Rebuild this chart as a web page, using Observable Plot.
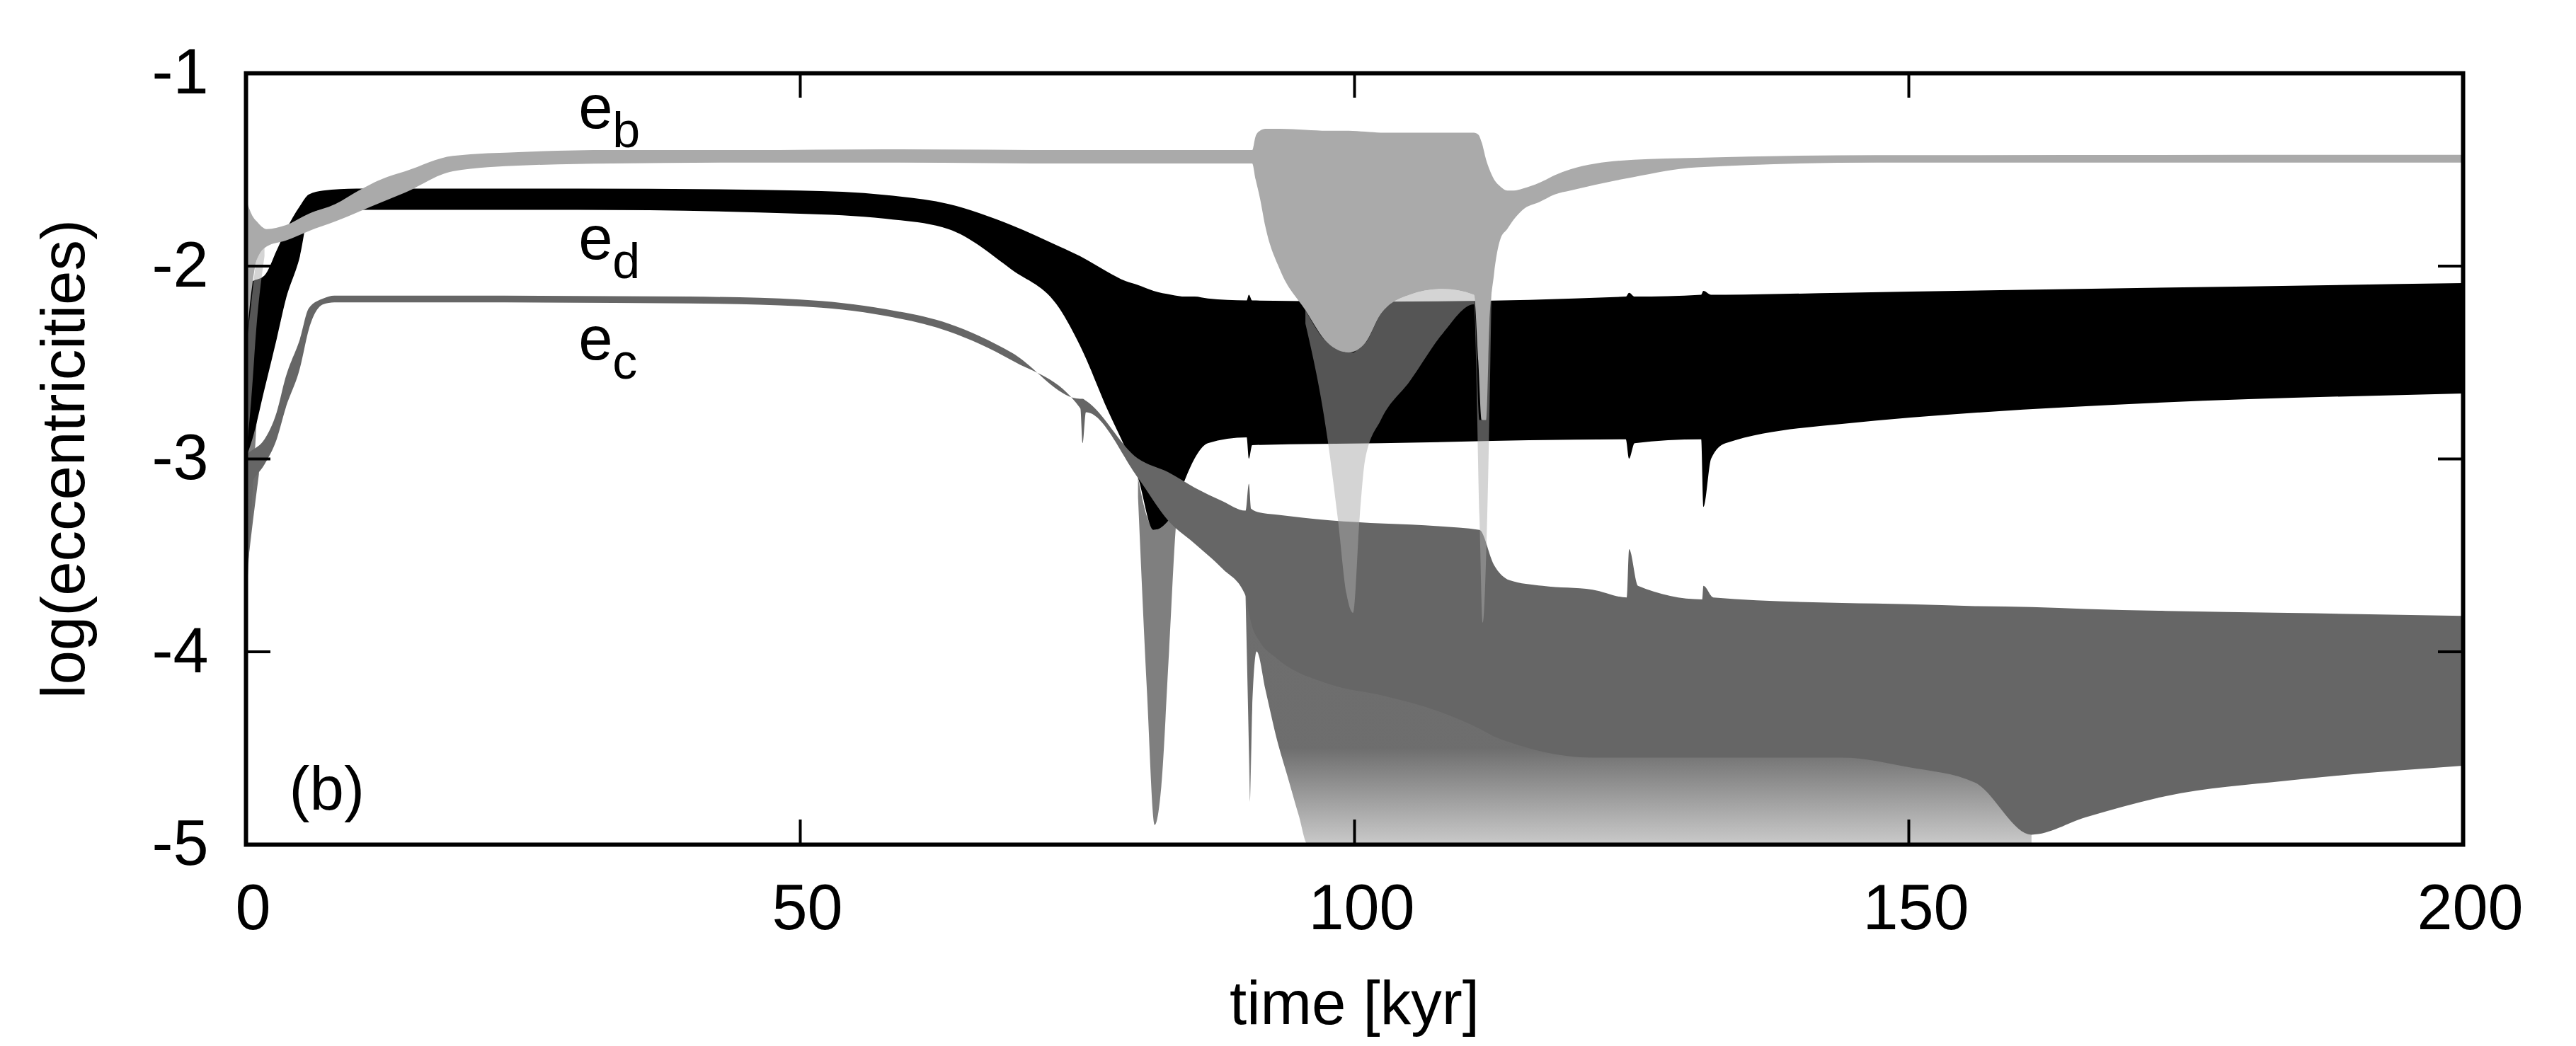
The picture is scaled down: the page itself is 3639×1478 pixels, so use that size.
<!DOCTYPE html>
<html>
<head>
<meta charset="utf-8">
<script src="https://cdn.jsdelivr.net/npm/d3@7"></script>
<script src="https://cdn.jsdelivr.net/npm/@observablehq/plot@0.6"></script>
<style>
  html, body { margin: 0; padding: 0; background: #ffffff; }
  #chart svg { display: block; }
</style>
</head>
<body>
<div id="chart"></div>
<script>
// ---------------- data ----------------
const xTicks = [0, 50, 100, 150, 200];
const yTicks = [-1, -2, -3, -4, -5];
const xLabel = "time [kyr]";
const yLabel = "log(eccentricities)";

// e_b : dense envelope (upper / lower) of log(e_b)
const ebT  = [0, 0.3, 0.6, 1.0, 1.9, 3.6, 5.7, 8.1, 10.2, 12.3, 14.4, 18.7, 25, 33, 45, 57.7, 75, 90.8, 91.1, 91.5, 92, 93.3, 95.6, 97.6, 99.5, 101, 102.4, 105, 108, 110.8, 111.2, 111.5, 111.9, 112.2, 112.6, 113.2, 113.8, 114.4, 115.2, 116.7, 118.1, 119.5, 125.2, 130.9, 147.1, 200];
const ebHi = [-1.645, -1.70, -1.74, -1.77, -1.81, -1.79, -1.73, -1.68, -1.61, -1.55, -1.51, -1.43, -1.41, -1.40, -1.40, -1.396, -1.40, -1.40, -1.33, -1.30, -1.29, -1.29, -1.295, -1.30, -1.30, -1.305, -1.31, -1.31, -1.31, -1.31, -1.32, -1.36, -1.45, -1.50, -1.55, -1.59, -1.61, -1.61, -1.60, -1.57, -1.53, -1.50, -1.45, -1.44, -1.427, -1.425];
const ebLo = [-2.45, -2.25, -2.10, -1.97, -1.90, -1.87, -1.82, -1.77, -1.72, -1.67, -1.62, -1.51, -1.48, -1.47, -1.465, -1.465, -1.47, -1.47, -1.55, -1.65, -1.80, -2.02, -2.23, -2.40, -2.45, -2.40, -2.25, -2.15, -2.12, -2.15, -2.50, -2.80, -2.80, -2.30, -2.05, -1.86, -1.81, -1.76, -1.71, -1.67, -1.63, -1.61, -1.54, -1.49, -1.465, -1.465];
// e_b : sparse scatter tails
const ebSpSeg = [0, 0, 0, 0, 1, 1, 1, 1, 1, 1, 1, 1, 1, 1, 1, 1, 1, 1, 1];
const ebSpT   = [0, 0.5, 1.0, 1.7, 95.6, 97.6, 98.5, 99.3, 99.9, 100.5, 101, 102.4, 105, 108, 110.8, 111.3, 111.6, 112.0, 112.4];
const ebSpHi  = [-2.45, -2.20, -1.97, -1.90, -2.23, -2.40, -2.43, -2.45, -2.45, -2.42, -2.40, -2.25, -2.15, -2.12, -2.15, -2.80, -2.80, -2.40, -2.10];
const ebSpLo  = [-3.00, -2.70, -2.30, -1.95, -2.30, -2.90, -3.30, -3.70, -3.80, -3.30, -3.00, -2.80, -2.60, -2.35, -2.20, -3.30, -3.85, -3.30, -2.10];

// e_d : dense envelope
const edT  = [0, 0.6, 1.7, 2.8, 3.6, 4.9, 5.7, 7, 10, 30, 50, 57.7, 63.4, 69.1, 73.4, 75.4, 77.7, 79.4, 80.5, 81.9, 83.5, 84.8, 85.6, 86.8, 90.3, 90.5, 90.8, 102.4, 124.5, 124.8, 125.3, 131.3, 131.5, 132.2, 133.5, 144, 200];
const edHi = [-2.10, -2.08, -2.05, -1.92, -1.82, -1.69, -1.63, -1.61, -1.60, -1.60, -1.61, -1.633, -1.68, -1.79, -1.90, -1.954, -2.03, -2.08, -2.10, -2.13, -2.15, -2.16, -2.16, -2.17, -2.18, -2.15, -2.18, -2.186, -2.16, -2.14, -2.16, -2.15, -2.13, -2.15, -2.15, -2.14, -2.09];
const edLo = [-3.00, -2.90, -2.64, -2.38, -2.18, -1.95, -1.74, -1.71, -1.71, -1.71, -1.73, -1.756, -1.81, -2.02, -2.22, -2.43, -2.74, -2.95, -3.10, -3.37, -3.30, -3.10, -3.00, -2.92, -2.89, -3.00, -2.93, -2.92, -2.90, -3.00, -2.92, -2.90, -3.25, -3.00, -2.92, -2.82, -2.662];
// e_d : sparse scatter tails
const edSpSeg = [0, 0, 0, 1, 1, 1, 1, 1, 1, 1];
const edSpT   = [0, 0.5, 1.0, 80.5, 81.3, 82.0, 82.6, 83.3, 84.0, 84.8];
const edSpHi  = [-3.00, -2.90, -2.78, -3.10, -3.30, -3.37, -3.35, -3.30, -3.20, -3.10];
const edSpLo  = [-3.80, -3.30, -2.80, -3.20, -4.20, -4.90, -4.70, -4.00, -3.30, -3.10];

// e_c : dense envelope
const ecT  = [0, 0.5, 1.7, 2.8, 3.6, 4.9, 5.7, 7, 8, 20, 40, 50, 57.7, 63.4, 69.1, 75.3, 75.5, 75.8, 80.5, 83.2, 85.6, 88.1, 90.2, 90.5, 90.7, 91.5, 92.9, 97.8, 102.7, 107.6, 111.3, 112.6, 114, 117, 121.5, 124.6, 124.8, 125.6, 131.4, 131.5, 132.4, 144, 150, 156, 161.1, 166, 173.2, 184.2, 200];
const ecHi = [-2.98, -2.96, -2.90, -2.76, -2.58, -2.38, -2.22, -2.17, -2.155, -2.155, -2.16, -2.175, -2.225, -2.30, -2.45, -2.69, -2.69, -2.70, -3.00, -3.07, -3.15, -3.22, -3.27, -3.13, -3.26, -3.28, -3.29, -3.32, -3.337, -3.35, -3.37, -3.55, -3.63, -3.66, -3.68, -3.72, -3.47, -3.66, -3.73, -3.66, -3.72, -3.749, -3.755, -3.765, -3.77, -3.78, -3.79, -3.80, -3.816];
const ecLo = [-3.20, -3.13, -3.03, -2.90, -2.74, -2.53, -2.33, -2.20, -2.19, -2.19, -2.195, -2.21, -2.26, -2.34, -2.49, -2.74, -2.92, -2.76, -3.10, -3.32, -3.44, -3.57, -3.71, -3.80, -3.85, -3.95, -4.03, -4.17, -4.23, -4.31, -4.40, -4.44, -4.47, -4.52, -4.55, -4.55, -4.55, -4.55, -4.55, -4.55, -4.55, -4.55, -4.60, -4.68, -4.95, -4.86, -4.75, -4.67, -4.593];
// e_c : scatter below the dense band (its top is hidden under the dense band)
const ecSpSeg = [0, 0, 0, 1, 1, 1, 1, 1, 1, 1, 1, 1, 1, 1, 1, 1, 1, 1, 1];
const ecSpT   = [0, 0.5, 1.2, 90.2, 90.5, 90.6, 90.8, 91.2, 92, 93, 94, 95, 95.8, 100, 111.4, 124.6, 144, 156, 161.1];
const ecSpHi  = [-3.05, -3.00, -3.00, -3.50, -3.60, -3.65, -3.70, -3.80, -3.85, -3.90, -3.95, -4.00, -4.00, -4.05, -4.10, -4.20, -4.30, -4.45, -4.85];
const ecSpLo  = [-3.65, -3.40, -3.08, -3.71, -4.50, -4.78, -4.30, -4.00, -4.20, -4.45, -4.65, -4.85, -5.00, -5.00, -5.00, -5.00, -5.00, -5.00, -5.00];
// fading of the e_c scatter with depth (log value, opacity)
const ecFadeV = [-4.5, -5.0];
const ecFadeA = [0.95, 0.35];

// curve labels (anchored in data space: time, log value)
const curveMain = ["e", "e", "e"];
const curveSub  = ["b", "d", "c"];
const curveT    = [30.0, 30.0, 30.0];
const curveV    = [-1.286, -1.965, -2.483];
const panelText = ["(b)"];
const panelT    = [3.9];
const panelV    = [-4.817];

// ---------------- build tables ----------------
const band = (t, hi, lo) => t.map((d, i) => ({t: d, hi: hi[i], lo: lo[i]}));
const bandZ = (z, t, hi, lo) => t.map((d, i) => ({seg: z[i], t: d, hi: hi[i], lo: lo[i]}));
const eb = band(ebT, ebHi, ebLo), ebSp = bandZ(ebSpSeg, ebSpT, ebSpHi, ebSpLo);
const ed = band(edT, edHi, edLo), edSp = bandZ(edSpSeg, edSpT, edSpHi, edSpLo);
const ec = band(ecT, ecHi, ecLo), ecSp = bandZ(ecSpSeg, ecSpT, ecSpHi, ecSpLo);
const curveLabels = curveMain.map((m, i) => ({main: m, sub: curveSub[i], t: curveT[i], v: curveV[i]}));
const panelLabels = panelText.map((s, i) => ({s, t: panelT[i], v: panelV[i]}));

// ---------------- layout ----------------
const W = 3639, H = 1478;
const mL = 347, mR = 160, mT = 103, mB = 285;
const plotW = W - mL - mR, plotH = H - mT - mB;
const tickLen = 35;

const cLight = "#aaaaaa", cMid = "#666666", cDark = "#000000";
const cv = "monotone-x";

// gradient definition for the fading e_c scatter, positioned via the y scale
function fadeDefs(index, scales) {
  const ns = "http://www.w3.org/2000/svg";
  const yS = scales && scales.y ? scales.y : (v => mT + (-1 - v) / 4 * plotH);
  const defs = document.createElementNS(ns, "defs");
  const g = document.createElementNS(ns, "linearGradient");
  g.setAttribute("id", "ecFade");
  g.setAttribute("gradientUnits", "userSpaceOnUse");
  g.setAttribute("x1", 0); g.setAttribute("x2", 0);
  g.setAttribute("y1", yS(ecFadeV[0])); g.setAttribute("y2", yS(ecFadeV[1]));
  ecFadeV.forEach((v, i) => {
    const s = document.createElementNS(ns, "stop");
    s.setAttribute("offset", i / (ecFadeV.length - 1));
    s.setAttribute("stop-color", cMid);
    s.setAttribute("stop-opacity", ecFadeA[i]);
    g.appendChild(s);
  });
  defs.appendChild(g);
  return defs;
}

const chart = Plot.plot({
  width: W,
  height: H,
  marginLeft: mL, marginRight: mR, marginTop: mT, marginBottom: mB,
  style: {fontFamily: "'Liberation Sans', Arial, Helvetica, sans-serif", fontSize: "90px", background: "#ffffff", color: "#000000"},
  x: {domain: [0, 200]},
  y: {domain: [-5, -1]},
  marks: [
    fadeDefs,
    // e_d (black)
    Plot.areaY(ed, {x: "t", y1: "lo", y2: "hi", fill: cDark, curve: cv}),
    Plot.areaY(edSp, {x: "t", y1: "lo", y2: "hi", z: "seg", fill: cDark, fillOpacity: 0.5, curve: cv}),
    // e_c (mid gray): fading scatter under the dense band
    Plot.areaY(ecSp, {x: "t", y1: "lo", y2: "hi", z: "seg", fill: "url(#ecFade)", curve: cv}),
    Plot.areaY(ec, {x: "t", y1: "lo", y2: "hi", fill: cMid, curve: cv}),
    // e_b (light gray)
    Plot.areaY(eb, {x: "t", y1: "lo", y2: "hi", fill: cLight, curve: cv}),
    Plot.areaY(ebSp, {x: "t", y1: "lo", y2: "hi", z: "seg", fill: cLight, fillOpacity: 0.5, curve: cv}),

    // inward ticks on all four sides
    Plot.ruleX(xTicks, {insetTop: plotH - tickLen, stroke: "black", strokeWidth: 4}),
    Plot.ruleX(xTicks, {insetBottom: plotH - tickLen, stroke: "black", strokeWidth: 4}),
    Plot.ruleY(yTicks, {insetRight: plotW - tickLen, stroke: "black", strokeWidth: 4}),
    Plot.ruleY(yTicks, {insetLeft: plotW - tickLen, stroke: "black", strokeWidth: 4}),

    // tick labels
    Plot.axisX({anchor: "bottom", ticks: xTicks, tickSize: 0, tickPadding: 56, tickFormat: d => String(d), fontSize: 90, dx: 10, label: null}),
    Plot.axisY({anchor: "left", ticks: yTicks, tickSize: 0, tickPadding: 53, tickFormat: d => String(d), fontSize: 90, label: null}),

    // axis titles
    Plot.text([xLabel], {frameAnchor: "bottom", textAnchor: "middle", lineAnchor: "bottom", dy: 253, fontSize: 87, fill: "black"}),
    Plot.text([yLabel], {frameAnchor: "left", textAnchor: "middle", lineAnchor: "middle", rotate: -90, dx: -256, fontSize: 87, fill: "black"}),

    // curve labels with subscripts
    Plot.text(curveLabels, {x: "t", y: "v", text: "main", textAnchor: "start", lineAnchor: "bottom", fontSize: 87, fill: "black"}),
    Plot.text(curveLabels, {x: "t", y: "v", text: "sub", textAnchor: "start", lineAnchor: "bottom", fontSize: 70, dx: 48, dy: 27, fill: "black"}),
    Plot.text(panelLabels, {x: "t", y: "v", text: "s", textAnchor: "start", lineAnchor: "bottom", fontSize: 87, fill: "black"}),

    // frame
    Plot.frame({stroke: "black", strokeWidth: 6})
  ]
});

document.getElementById("chart").appendChild(chart);
</script>
</body>
</html>
